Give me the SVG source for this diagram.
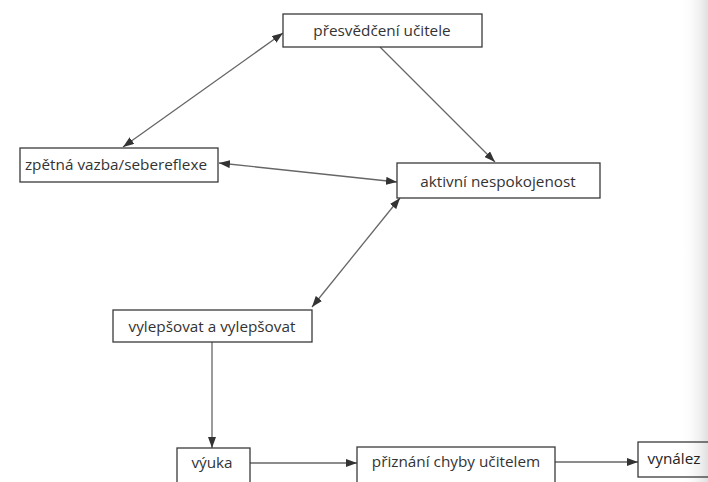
<svg xmlns="http://www.w3.org/2000/svg" width="708" height="482" viewBox="0 0 708 482">
<style>
.box{fill:#fff;stroke:#3a3a3a;stroke-width:1.3}
.lbl{font-family:"Open Sans","Liberation Sans",sans-serif;font-size:15.3px;fill:#333;text-anchor:middle}
.ln{fill:none;stroke:#666;stroke-width:1.3}
</style>
<defs>
<marker id="ah" viewBox="0 0 11 8" refX="11" refY="4" markerWidth="11" markerHeight="8" markerUnits="userSpaceOnUse" orient="auto-start-reverse">
<path d="M0,0 L11,4 L0,8 Z" fill="#333"/>
</marker>
<linearGradient id="edge" x1="0" y1="0" x2="1" y2="0">
<stop offset="0" stop-color="#fff" stop-opacity="0"/>
<stop offset="1" stop-color="#d8d8d8" stop-opacity="0.8"/>
</linearGradient>
</defs>
<rect width="708" height="482" fill="#fff"/>
<rect x="680" y="0" width="28" height="482" fill="url(#edge)"/>
<g id="connectors">
<line class="ln" x1="283" y1="33" x2="123" y2="147" marker-start="url(#ah)" marker-end="url(#ah)"/>
<line class="ln" x1="380" y1="47" x2="495" y2="162" marker-end="url(#ah)"/>
<line class="ln" x1="219" y1="163" x2="397" y2="182" marker-start="url(#ah)" marker-end="url(#ah)"/>
<line class="ln" x1="400" y1="198" x2="312" y2="307" marker-start="url(#ah)" marker-end="url(#ah)"/>
<line class="ln" x1="212" y1="342" x2="212" y2="448" marker-end="url(#ah)"/>
<line class="ln" x1="250" y1="463" x2="357" y2="463" marker-end="url(#ah)"/>
<line class="ln" x1="555" y1="462" x2="638" y2="462" marker-end="url(#ah)"/>
</g>
<g id="n1"><rect class="box" x="283" y="14" width="199" height="33"/><text class="lbl" x="382" y="36">přesvědčení učitele</text></g>
<g id="n2"><rect class="box" x="20" y="148" width="198" height="34"/><text class="lbl" x="116" y="170">zpětná vazba/sebereflexe</text></g>
<g id="n3"><rect class="box" x="397" y="163" width="203" height="35"/><text class="lbl" x="498" y="187">aktivní nespokojenost</text></g>
<g id="n4"><rect class="box" x="113" y="310" width="199" height="32"/><text class="lbl" x="212" y="332">vylepšovat a vylepšovat</text></g>
<g id="n5"><rect class="box" x="177" y="448" width="73" height="40"/><text class="lbl" x="212" y="468">výuka</text></g>
<g id="n6"><rect class="box" x="357" y="447" width="198" height="40"/><text class="lbl" x="456" y="467">přiznání chyby učitelem</text></g>
<g id="n7"><rect class="box" x="638" y="442" width="80" height="35" style="fill:none"/><text class="lbl" x="674" y="464" style="fill:#222">vynález</text></g>
</svg>
